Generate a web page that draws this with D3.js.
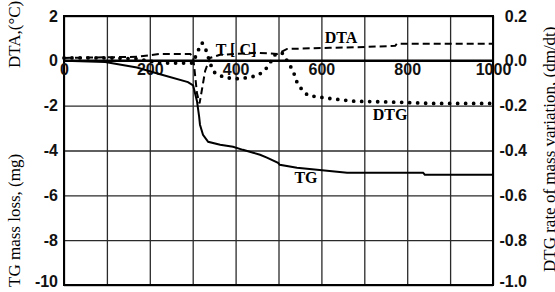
<!DOCTYPE html>
<html>
<head>
<meta charset="utf-8">
<script src="https://cdn.jsdelivr.net/npm/d3@7"></script>
<style>
    body { margin: 0; background: #fff; }
    svg { display: block; font-family: "Liberation Serif", "Times New Roman", serif; }
    .tick line { stroke: #2a2a2a; stroke-width: 1.3; }
    .lbl { font-weight: bold; font-size: 16px; }
</style>
</head>
<body>
<svg id="chart" width="555" height="292"></svg>
<script>
// temperature axis, deg C
var xTicks = [0, 200, 400, 600, 800, 1000];
var xGrid = [0, 100, 200, 300, 400, 500, 600, 700, 800, 900, 1000];
var leftTicks = [2, 0, -2, -4, -6, -8, -10];
var rightTicks = [0.2, 0.0, -0.2, -0.4, -0.6, -0.8, -1.0];

// TG mass loss (mg)
var tgT = [0, 96, 170, 224, 289, 301, 310, 315, 317, 324, 336, 364, 394, 417, 441, 457, 473, 499, 503, 543, 660, 837, 841, 1000];
var tgV = [0, -0.05, -0.3, -0.6, -0.95, -1.1, -1.8, -2.49, -2.85, -3.3, -3.61, -3.74, -3.83, -3.97, -4.1, -4.19, -4.32, -4.55, -4.64, -4.77, -4.99, -4.99, -5.08, -5.08];

// DTA (deg C)
var dtaT = [0, 170, 224, 294, 301, 310, 316, 329, 340, 364, 450, 497, 520, 620, 702, 772, 776, 1000];
var dtaV = [0.13, 0.18, 0.31, 0.31, 0.18, -1.45, -1.9, -0.45, 0.13, 0.27, 0.36, 0.31, 0.53, 0.58, 0.62, 0.67, 0.76, 0.76];

// DTG (dm/dt)
var dtgT = [0, 100, 170, 212, 224, 301, 310, 322, 333, 340, 352, 375, 406, 429, 452, 469, 480, 492, 508, 522, 534, 543, 555, 569, 590, 627, 674, 783, 853, 1000];
var dtgV = [0.013, 0.013, 0.009, -0.005, -0.01, -0.01, 0.036, 0.08, 0.04, -0.01, -0.055, -0.075, -0.08, -0.075, -0.065, -0.04, -0.01, 0.027, 0.036, -0.005, -0.045, -0.095, -0.13, -0.155, -0.16, -0.17, -0.18, -0.185, -0.19, -0.19];

var svg = d3.select("#chart");
var pLeft = 64, pRight = 493, pTop = 16, pBottom = 285;

var x = d3.scaleLinear().domain([0, 1000]).range([pLeft, pRight]);
var yL = d3.scaleLinear().domain([2, -10]).range([pTop, pBottom]);
var yR = d3.scaleLinear().domain([0.2, -1.0]).range([pTop, pBottom]);

// grid
svg.append("g")
    .attr("transform", "translate(0," + pBottom + ")")
    .call(d3.axisBottom(x).tickValues(xGrid).tickSize(-(pBottom - pTop)).tickFormat(""))
    .call(function(g) { g.select(".domain").remove(); });
svg.append("g")
    .attr("transform", "translate(" + pLeft + ",0)")
    .call(d3.axisLeft(yL).tickValues(leftTicks).tickSize(-(pRight - pLeft)).tickFormat(""))
    .call(function(g) { g.select(".domain").remove(); });

svg.append("rect")
    .attr("x", pLeft).attr("y", pTop)
    .attr("width", pRight - pLeft).attr("height", pBottom - pTop)
    .attr("fill", "none").attr("stroke", "#000").attr("stroke-width", 2);

svg.append("line")
    .attr("x1", x(0)).attr("x2", x(1000))
    .attr("y1", yL(0)).attr("y2", yL(0))
    .attr("stroke", "#000").attr("stroke-width", 2.5);

// tick labels
svg.append("g")
    .attr("class", "lbl")
    .attr("transform", "translate(" + pLeft + ",0)")
    .call(d3.axisLeft(yL).tickValues(leftTicks).tickSize(0).tickPadding(6).tickFormat(function(d) { return String(d); }))
    .call(function(g) {
        g.select(".domain").remove();
        g.selectAll("text").attr("font-size", 16).attr("font-family", null).attr("fill", "#111");
        g.selectAll("text").filter(function(d) { return d == -10; }).attr("dy", "0.1em");
    });

svg.append("g")
    .attr("class", "lbl")
    .attr("transform", "translate(" + pRight + ",0)")
    .call(d3.axisRight(yR).tickValues(rightTicks).tickSize(0).tickFormat(function(d) { return d.toFixed(1); }))
    .call(function(g) {
        g.select(".domain").remove();
        g.selectAll("text").attr("text-anchor", "end").attr("x", 34)
            .attr("font-size", 16).attr("font-family", null).attr("fill", "#111");
        g.selectAll("text").filter(function(d) { return d == -1; }).attr("dy", "0.1em");
    });

svg.append("g")
    .attr("class", "lbl")
    .attr("transform", "translate(0," + yL(0) + ")")
    .call(d3.axisBottom(x).tickValues(xTicks).tickSize(0).tickPadding(3).tickFormat(function(d) { return String(d); }))
    .call(function(g) {
        g.select(".domain").remove();
        g.selectAll("text").attr("font-size", 16).attr("font-family", null).attr("fill", "#111");
    });

// curves
function series(ts, vs, y) {
    return ts.map(function(t, i) { return [x(t), y(vs[i])]; });
}
var line = d3.line();

svg.append("path")
    .attr("d", line(series(tgT, tgV, yL)))
    .attr("fill", "none").attr("stroke", "#000").attr("stroke-width", 2);

svg.append("path")
    .attr("d", line(series(dtaT, dtaV, yL)))
    .attr("fill", "none").attr("stroke", "#000").attr("stroke-width", 2)
    .attr("stroke-dasharray", "7,4");

svg.append("path")
    .attr("d", line(series(dtgT, dtgV, yR)))
    .attr("fill", "none").attr("stroke", "#000").attr("stroke-width", 3.8)
    .attr("stroke-linecap", "round").attr("stroke-dasharray", "0,8");

// curve names
var names = [
    {t: "DTA", x: 341, y: 43},
    {t: "DTG", x: 390, y: 120},
    {t: "TG", x: 306, y: 183},
    {t: "T [ C]", x: 236, y: 55}
];
svg.selectAll("text.name").data(names).enter()
    .append("text")
    .attr("class", "name lbl")
    .attr("x", function(d) { return d.x; })
    .attr("y", function(d) { return d.y; })
    .attr("text-anchor", "middle")
    .text(function(d) { return d.t; });

// axis titles
svg.append("text")
    .attr("transform", "translate(20,287) rotate(-90)")
    .attr("font-size", 17)
    .text("TG mass loss, (mg)");
svg.append("text")
    .attr("transform", "translate(20,68) rotate(-90)")
    .attr("font-size", 17)
    .text("DTA,(°C)");
svg.append("text")
    .attr("transform", "translate(555,272) rotate(-90)")
    .attr("font-size", 17)
    .text("DTG rate of mass variation, (dm/dt)");
</script>
</body>
</html>
